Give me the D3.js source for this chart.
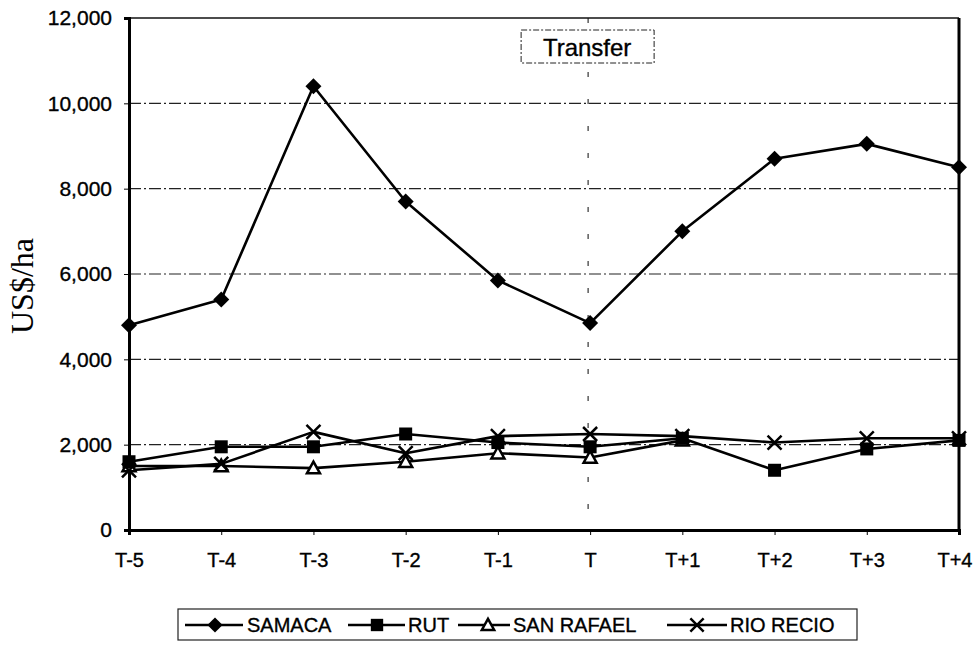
<!DOCTYPE html>
<html>
<head>
<meta charset="utf-8">
<script src="https://cdn.jsdelivr.net/npm/d3@7"></script>
<style>
  html, body { margin: 0; padding: 0; background: #fff; }
  svg { display: block; }
</style>
</head>
<body>
<svg id="chart" width="975" height="646"></svg>
<script>
// Periods relative to the transfer year
const periods = ["T-5", "T-4", "T-3", "T-2", "T-1", "T", "T+1", "T+2", "T+3", "T+4"];

// Values in US$/ha per district
const samaca    = [4800, 5400, 10400, 7700, 5850, 4850, 7000, 8700, 9050, 8500];
const rut       = [1600, 1950, 1950, 2250, 2050, 1950, 2150, 1400, 1900, 2100];
const sanRafael = [1500, 1500, 1450, 1600, 1800, 1700, 2100, null, null, null];
const rioRecio  = [1400, 1550, 2300, 1800, 2200, 2250, 2200, 2050, 2150, 2150];

const seriesNames = ["SAMACA", "RUT", "SAN RAFAEL", "RIO RECIO"];
const yTicks = [0, 2000, 4000, 6000, 8000, 10000, 12000];
const transferLabel = "Transfer";
const yTitle = "US$/ha";

const series = [
  { name: seriesNames[0], values: samaca,    marker: "diamond" },
  { name: seriesNames[1], values: rut,       marker: "square" },
  { name: seriesNames[2], values: sanRafael, marker: "triangle" },
  { name: seriesNames[3], values: rioRecio,  marker: "cross" }
];

const svg = d3.select("#chart");
const plotLeft = 129, plotRight = 959, plotTop = 18, plotBottom = 530;

const x = d3.scalePoint().domain(periods).range([plotLeft, plotRight]);
const y = d3.scaleLinear().domain([0, 12000]).range([plotBottom, plotTop]);

const sans = "'Liberation Sans', Arial, sans-serif";

// Slightly heavier text, like a printed chart
function ink(sel, size) {
  sel.attr("font-family", sans).attr("font-size", size)
    .attr("fill", "#000").attr("stroke", "#000").attr("stroke-width", 0.35);
}

// Horizontal gridlines (dash-dot)
svg.append("g")
  .selectAll("line")
  .data(yTicks.filter(t => t > 0 && t < 12000))
  .join("line")
  .attr("x1", plotLeft).attr("x2", plotRight)
  .attr("y1", d => y(d)).attr("y2", d => y(d))
  .attr("stroke", "#222")
  .attr("stroke-width", 1.1)
  .attr("stroke-dasharray", "12,3,2,3");

// Vertical marker at the transfer year
svg.append("line")
  .attr("x1", x("T") - 2).attr("x2", x("T") - 2)
  .attr("y1", plotTop).attr("y2", plotBottom)
  .attr("stroke", "#333")
  .attr("stroke-width", 1.2)
  .attr("stroke-dasharray", "5,22");

// Plot frame: top thin, right heavy
svg.append("line").attr("x1", plotLeft).attr("x2", plotRight).attr("y1", plotTop).attr("y2", plotTop)
  .attr("stroke", "#111").attr("stroke-width", 1.5);
svg.append("line").attr("x1", plotRight).attr("x2", plotRight).attr("y1", plotTop).attr("y2", plotBottom)
  .attr("stroke", "#000").attr("stroke-width", 3);

// Y axis
const yAxis = svg.append("g")
  .attr("transform", `translate(${plotLeft},0)`)
  .call(d3.axisLeft(y).tickValues(yTicks).tickFormat(d3.format(",")).tickSize(5).tickPadding(12));
yAxis.select(".domain").attr("stroke", "#000").attr("stroke-width", 3);
yAxis.selectAll(".tick line").attr("stroke", "#000").attr("stroke-width", 1);
ink(yAxis.selectAll("text"), 21);

// X axis
const xAxis = svg.append("g")
  .attr("transform", `translate(0,${plotBottom})`)
  .call(d3.axisBottom(x).tickSize(5).tickPadding(18));
xAxis.select(".domain").attr("stroke", "#000").attr("stroke-width", 3);
xAxis.selectAll(".tick line").attr("stroke", "#000").attr("stroke-width", 1);
ink(xAxis.selectAll("text"), 20);
// keep the last period label inside the page
xAxis.selectAll(".tick text").filter(d => d === periods[periods.length - 1])
  .attr("text-anchor", "end").attr("dx", 13);

// Y axis title
svg.append("text")
  .attr("transform", `translate(33,286) rotate(-90)`)
  .attr("text-anchor", "middle")
  .attr("font-family", "'Liberation Serif', 'Times New Roman', serif")
  .attr("font-size", 32)
  .attr("fill", "#000")
  .text(yTitle);

// Transfer annotation box
const tb = svg.append("g");
tb.append("rect")
  .attr("x", x("T") - 69).attr("y", 30).attr("width", 133).attr("height", 33)
  .attr("fill", "#fff").attr("stroke", "#222").attr("stroke-width", 1)
  .attr("stroke-dasharray", "6,2,2,2");
ink(tb.append("text")
  .attr("x", x("T") - 3).attr("y", 56)
  .attr("text-anchor", "middle")
  .text(transferLabel), 24);

// Marker drawing
function drawMarker(g, type, cx, cy, scale) {
  const s = scale || 1;
  if (type === "diamond") {
    const r = 8 * s;
    g.append("path")
      .attr("d", `M${cx},${cy - r}L${cx + r},${cy}L${cx},${cy + r}L${cx - r},${cy}Z`)
      .attr("fill", "#000");
  } else if (type === "square") {
    const h = 6.5 * s;
    g.append("rect").attr("x", cx - h).attr("y", cy - h)
      .attr("width", 2 * h).attr("height", 2 * h).attr("fill", "#000");
  } else if (type === "triangle") {
    const h = 6.5 * s;
    g.append("path")
      .attr("d", `M${cx},${cy - h}L${cx + h},${cy + h * 0.8}L${cx - h},${cy + h * 0.8}Z`)
      .attr("fill", "#fff").attr("stroke", "#000").attr("stroke-width", 2.5);
  } else if (type === "cross") {
    const h = 7 * s;
    g.append("path")
      .attr("d", `M${cx - h},${cy - h}L${cx + h},${cy + h}M${cx + h},${cy - h}L${cx - h},${cy + h}`)
      .attr("stroke", "#000").attr("stroke-width", 2.5).attr("fill", "none");
  }
}

// Lines
const line = d3.line()
  .defined(d => d.v != null)
  .x(d => x(d.p))
  .y(d => y(d.v));

const linesG = svg.append("g");
series.forEach(s => {
  const pts = periods.map((p, i) => ({ p, v: s.values[i] }));
  linesG.append("path")
    .datum(pts)
    .attr("d", line)
    .attr("fill", "none")
    .attr("stroke", "#000")
    .attr("stroke-width", 2.6)
    .attr("stroke-linejoin", "round");
});

// Markers, drawn in an order that keeps overlapping symbols readable
const markersG = svg.append("g");
[series[0], series[2], series[1], series[3]].forEach(s => {
  periods.forEach((p, i) => {
    const v = s.values[i];
    if (v == null) return;
    drawMarker(markersG, s.marker, x(p), y(v));
  });
});

// Legend
const legend = svg.append("g");
legend.append("rect")
  .attr("x", 178).attr("y", 609).attr("width", 679).attr("height", 31)
  .attr("fill", "#fff").attr("stroke", "#222").attr("stroke-width", 1.2);

const legendItems = [
  { s: series[0], x1: 185, x2: 243, mx: 215, tx: 247 },
  { s: series[1], x1: 348, x2: 405, mx: 377, tx: 408 },
  { s: series[2], x1: 458, x2: 510, mx: 488, tx: 513 },
  { s: series[3], x1: 667, x2: 727, mx: 697, tx: 730 }
];
legendItems.forEach(it => {
  const cy = 625;
  legend.append("line")
    .attr("x1", it.x1).attr("x2", it.x2).attr("y1", cy).attr("y2", cy)
    .attr("stroke", "#000").attr("stroke-width", 2.5);
  drawMarker(legend, it.s.marker, it.mx, cy, 0.95);
  ink(legend.append("text")
    .attr("x", it.tx).attr("y", cy + 7)
    .text(it.s.name), 20);
});
</script>
</body>
</html>
